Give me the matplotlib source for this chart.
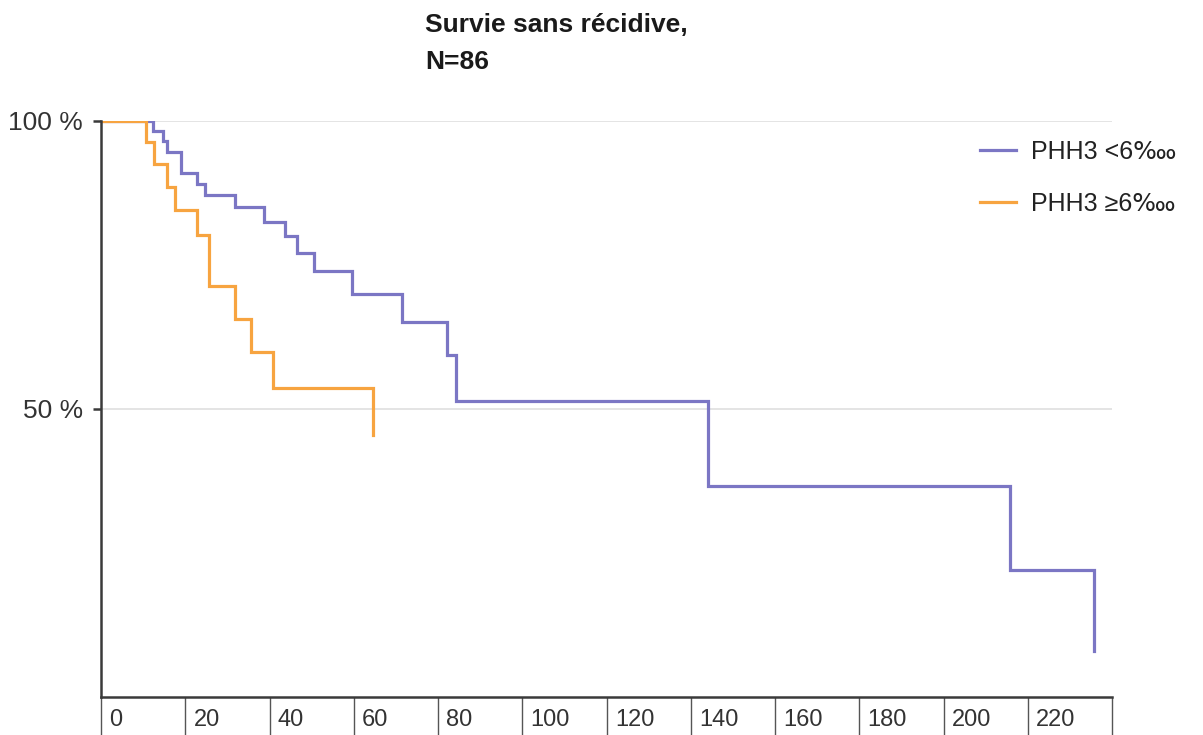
import matplotlib
matplotlib.use("Agg")
import matplotlib.pyplot as plt
from matplotlib.transforms import ScaledTranslation

# survival curves (months, % recurrence-free)
low_times = [0, 12.4, 14.6, 15.7, 19.0, 22.8, 24.7, 31.8, 38.8, 43.7, 46.6,
             50.5, 59.5, 71.5, 82.2, 84.3, 144.1, 215.8, 235.8]
low_surv = [100, 98.3, 96.5, 94.7, 91.0, 89.0, 87.1, 85.1, 82.5, 80.1, 77.1,
            73.9, 69.9, 65.1, 59.4, 51.4, 36.6, 22.0, 8.0]
high_times = [0, 10.7, 12.5, 15.6, 17.6, 22.7, 25.7, 31.8, 35.6, 40.8, 64.5]
high_surv = [100, 96.4, 92.5, 88.6, 84.6, 80.2, 71.3, 65.7, 59.9, 53.6, 45.5]

series_labels = ["PHH3 <6\u2031", "PHH3 \u22656\u2031"]
series_colors = ["#7b76c4", "#f7a440"]
x_ticks = list(range(0, 241, 20))
x_labels = [str(v) for v in range(0, 221, 20)] + [""]
y_ticks = [50, 100]
y_labels = ["50 %", "100 %"]
title = "Survie sans récidive,\nN=86"

plt.rcParams["font.family"] = ["Liberation Sans", "DejaVu Sans"]

W, H = 1203, 735
fig = plt.figure(figsize=(W / 100, H / 100), dpi=100)
ax = fig.add_axes([101 / W, 1 - 697 / H, (1112 - 101) / W, (697 - 121) / H])

ax.step(low_times, low_surv, where="post", color=series_colors[0], lw=2.3,
        label=series_labels[0], solid_joinstyle="miter")
ax.step(high_times, high_surv, where="post", color=series_colors[1], lw=2.3,
        label=series_labels[1], solid_joinstyle="miter")

ax.set_xlim(0, 240)
ax.set_ylim(0, 100)

# axes styling
for side in ("top", "right"):
    ax.spines[side].set_visible(False)
for side in ("left", "bottom"):
    ax.spines[side].set_color("#3a3a3a")
    ax.spines[side].set_linewidth(1.8)
ax.spines["left"].set_bounds(0, 100)

ax.set_yticks(y_ticks)
ax.set_yticklabels(y_labels)
ax.tick_params(axis="y", length=6, width=1.8, color="#3a3a3a", pad=7,
               labelsize=19, labelcolor="#333333")
ax.yaxis.grid(True, color="#e4e4e4", lw=1.4)
ax.set_axisbelow(True)

# long downward ticks, labels sit to the right of each tick
ax.set_xticks(x_ticks)
ax.set_xticklabels(x_labels)
ax.tick_params(axis="x", length=28, width=1.0, color="#555555", pad=-19.5,
               labelsize=17, labelcolor="#333333")
offset = ScaledTranslation(6 / 72, 0, fig.dpi_scale_trans)
for lbl in ax.get_xticklabels():
    lbl.set_horizontalalignment("left")
    lbl.set_transform(lbl.get_transform() + offset)

fig.text(425 / W, 1 - 13 / H, title, ha="left", va="top", fontsize=19,
         fontweight="bold", color="#1a1a1a", linespacing=1.7)

leg = ax.legend(loc="upper left", bbox_to_anchor=(980 / W, 1 - 140 / H),
                bbox_transform=fig.transFigure, frameon=False, fontsize=18,
                handlelength=1.45, handletextpad=0.6, labelspacing=1.12,
                borderpad=0, borderaxespad=0)
for txt in leg.get_texts():
    txt.set_color("#222222")

fig.savefig("out.png", dpi=100)
